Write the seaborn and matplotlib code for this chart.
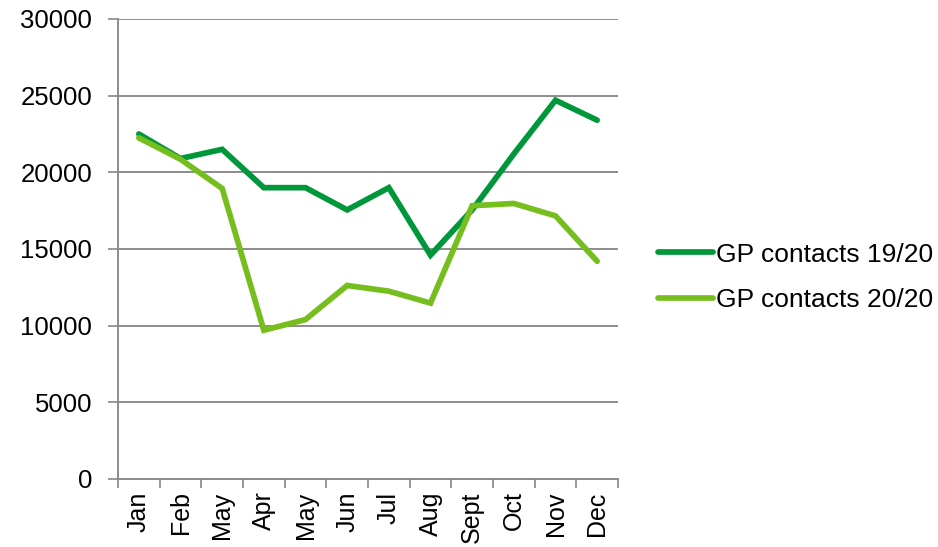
import matplotlib
matplotlib.use("Agg")
import matplotlib.pyplot as plt
from matplotlib.ticker import FixedLocator, MultipleLocator
import seaborn as sns
import pandas as pd
import numpy as np

months = ["Jan", "Feb", "May", "Apr", "May", "Jun", "Jul", "Aug", "Sept", "Oct", "Nov", "Dec"]
gp_1920 = [22500, 20900, 21500, 19000, 19000, 17550, 19000, 14600, 17550, 21200, 24700, 23400]
gp_2020 = [22250, 20850, 18950, 9700, 10400, 12620, 12250, 11470, 17820, 17970, 17160, 14200]
series_names = ["GP contacts 19/20", "GP contacts 20/20"]
colors = ["#00963A", "#76BE1E"]

sns.set_theme(style="white")
plt.rcParams['font.family'] = ['Liberation Sans', 'DejaVu Sans']

pos = np.arange(len(months))
df = pd.DataFrame({
    "pos": np.concatenate([pos, pos]),
    "value": gp_1920 + gp_2020,
    "series": [series_names[0]] * len(months) + [series_names[1]] * len(months),
})

fig = plt.figure(figsize=(9.38, 5.47), dpi=100)
ax = fig.add_axes([118/938, 1 - 479/547, 500/938, 460/547])

sns.lineplot(data=df, x="pos", y="value", hue="series", palette=colors,
             linewidth=4.1, ax=ax, legend=True)
for ln in ax.lines:
    ln.set_solid_capstyle("round")
    ln.set_solid_joinstyle("miter")

ax.set_xlim(-0.5, len(months) - 0.5)
ax.set_ylim(0, 30000)
ax.yaxis.set_major_locator(MultipleLocator(5000))
ax.set_xticks(pos)
ax.set_xticklabels(months, rotation=90, fontsize=18, color="black")
ax.xaxis.set_minor_locator(FixedLocator(np.arange(-0.5, len(months), 1.0)))
ax.tick_params(axis="x", which="major", length=0, pad=9)
ax.tick_params(axis="x", which="minor", length=6.5, width=1.2, color="#888888", direction="out", bottom=True)
ax.tick_params(axis="y", length=7, width=1.2, color="#888888", direction="out", left=True,
               labelsize=18.5, labelcolor="black", pad=11.5)
ax.grid(axis="y", color="#8c8c8c", linewidth=1.4)
ax.set_axisbelow(True)
for s in ["top", "right"]:
    ax.spines[s].set_visible(False)
for s in ["left", "bottom"]:
    ax.spines[s].set_color("#8c8c8c")
    ax.spines[s].set_linewidth(1.4)
ax.set_xlabel("")
ax.set_ylabel("")

handles, labels = ax.get_legend_handles_labels()
ax.get_legend().remove()
leg = fig.legend(handles, labels, loc="center left", bbox_to_anchor=(634/938, 1 - 277.5/547),
                 frameon=False, fontsize=19, handlelength=2.1, handletextpad=0.12,
                 labelspacing=0.82)
for t in leg.get_texts():
    t.set_color("black")
for h in leg.get_lines():
    h.set_linewidth(4.1)
    h.set_solid_capstyle("round")

fig.savefig("out.png", dpi=100)
